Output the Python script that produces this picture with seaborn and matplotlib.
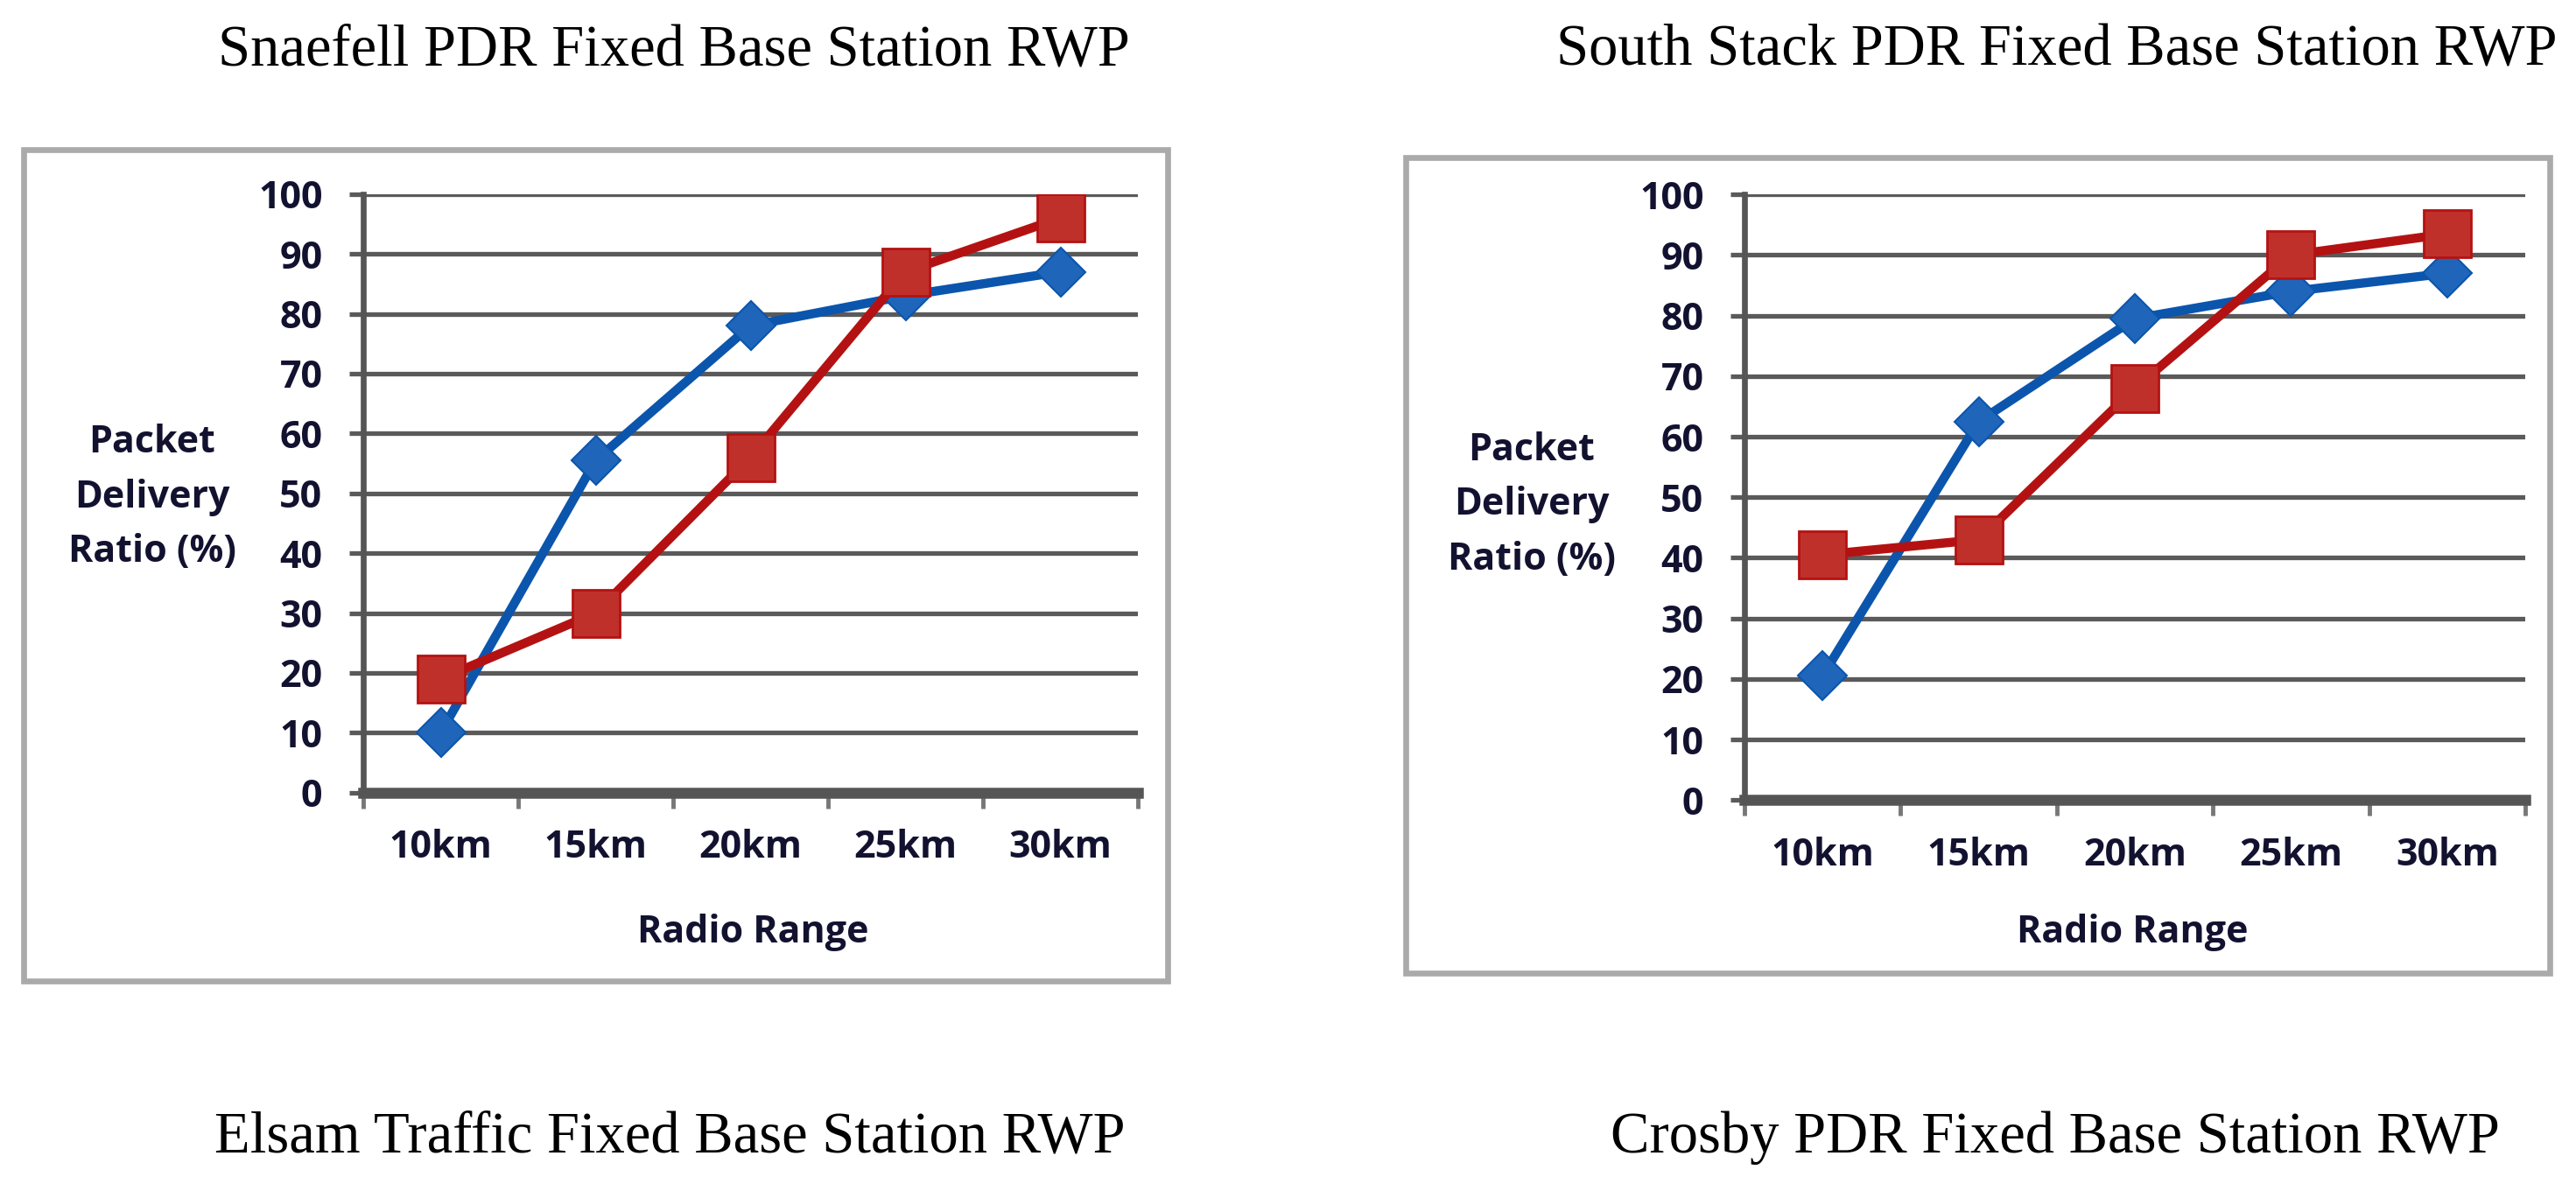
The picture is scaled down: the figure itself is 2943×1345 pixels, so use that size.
import numpy as np
import pandas as pd
import matplotlib
matplotlib.use("Agg")
import matplotlib.pyplot as plt
from matplotlib.patches import Rectangle
from matplotlib.ticker import FixedLocator
import seaborn as sns

# data
ranges = ["10km", "15km", "20km", "25km", "30km"]
snaefell_blue = [10, 55.5, 78, 83, 87]
snaefell_red = [19, 30, 56, 87, 96]
southstack_blue = [20.5, 62.5, 79.5, 84, 87]
southstack_red = [40.5, 43, 68, 90, 93.5]

titles_top = ["Snaefell PDR Fixed Base Station RWP", "South Stack PDR Fixed Base Station RWP"]
titles_bottom = ["Elsam Traffic Fixed Base Station RWP", "Crosby PDR Fixed Base Station RWP"]
y_ticks = list(range(0, 101, 10))

sns.set_theme(style="white")
plt.rcParams["font.family"] = ["Open Sans", "DejaVu Sans"]

W, H = 2943, 1345
fig = plt.figure(figsize=(W / 100, H / 100), dpi=100)

blue_line, blue_face = "#0B55AD", "#1F66BA"
red_line, red_face = "#B41212", "#C0302B"
txt = "#121230"
grid_c = "#5a5a5a"


def px(x0, y0, x1, y1):
    # pixel box (top-left origin) -> figure fraction rect
    return [x0 / W, 1 - y1 / H, (x1 - x0) / W, (y1 - y0) / H]


def draw_panel(rect, blue, red):
    ax = fig.add_axes(rect)
    df = pd.DataFrame({"range": ranges, "blue": blue, "red": red})
    sns.pointplot(data=df, x="range", y="blue", color=blue_line, marker="D",
                  markersize=29, markerfacecolor=blue_face, markeredgecolor=blue_line,
                  markeredgewidth=1.5, linewidth=7.5, errorbar=None, ax=ax, zorder=3)
    sns.pointplot(data=df, x="range", y="red", color=red_line, marker="s",
                  markersize=39, markerfacecolor=red_face, markeredgecolor=red_line,
                  markeredgewidth=2, linewidth=7.5, errorbar=None, ax=ax, zorder=4)
    ax.set_ylim(0, 100)
    ax.set_xlim(-0.5, len(ranges) - 0.5)
    ax.set_yticks(y_ticks)
    ax.set_yticklabels([str(v) for v in y_ticks])
    ax.yaxis.grid(True, color=grid_c, linewidth=3.8)
    ax.xaxis.grid(False)
    ax.set_axisbelow(True)
    ax.set_xlabel("")
    ax.set_ylabel("")
    for s in ["top", "right"]:
        ax.spines[s].set_visible(False)
    ax.spines["left"].set_color("#555555")
    ax.spines["left"].set_linewidth(4.8)
    ax.spines["bottom"].set_color("#555555")
    ax.spines["bottom"].set_linewidth(9)
    ax.spines["bottom"].set_zorder(2.5)
    ax.tick_params(axis="y", which="major", direction="out", length=11.5, width=3.8,
                   color=grid_c, pad=22, labelsize=31, labelcolor=txt, left=True)
    ax.tick_params(axis="x", which="major", length=0, pad=30, labelsize=31, labelcolor=txt)
    ax.xaxis.set_minor_locator(FixedLocator(np.arange(-0.5, len(ranges), 1.0)))
    ax.tick_params(axis="x", which="minor", direction="out", length=13, width=3.5,
                   color="#777777", bottom=True)
    for lab in ax.get_xticklabels() + ax.get_yticklabels():
        lab.set_fontweight("bold")
    return ax


draw_panel(px(415, 221.7, 1300, 905.7), snaefell_blue, snaefell_red)
draw_panel(px(1993, 222.3, 2885, 914.2), southstack_blue, southstack_red)

# chart frames
for x0, y0, x1, y1 in [(27, 171.3, 1334.3, 1121), (1606.3, 179.5, 2913.3, 1111.8)]:
    fig.patches.append(Rectangle((x0 / W, 1 - y1 / H), (x1 - x0) / W, (y1 - y0) / H,
                                 transform=fig.transFigure, fill=False,
                                 edgecolor="#AAAAAA", linewidth=4.8, zorder=0))

# axis titles
lab_kw = dict(fontsize=31, color=txt, fontweight="bold")
fig.text(174 / W, 1 - 568 / H, "Packet\nDelivery\nRatio (%)", ha="center", va="center",
         multialignment="center", linespacing=1.6, **lab_kw)
fig.text(1750 / W, 1 - 577 / H, "Packet\nDelivery\nRatio (%)", ha="center", va="center",
         multialignment="center", linespacing=1.6, **lab_kw)
fig.text(860 / W, 1 - 1077 / H, "Radio Range", ha="center", va="baseline", **lab_kw)
fig.text(2436 / W, 1 - 1077 / H, "Radio Range", ha="center", va="baseline", **lab_kw)

# captions
cap_kw = dict(fontsize=48, color="black", family=["Liberation Serif", "DejaVu Serif"])
fig.text(249 / W, 1 - 75 / H, titles_top[0], ha="left", va="baseline", **cap_kw)
fig.text(1778 / W, 1 - 75 / H, titles_top[1], ha="left", va="baseline", **cap_kw)
fig.text(245 / W, 1 - 1317 / H, titles_bottom[0], ha="left", va="baseline", **cap_kw)
fig.text(1840 / W, 1 - 1317 / H, titles_bottom[1], ha="left", va="baseline", **cap_kw)

fig.savefig("out.png", dpi=100, facecolor="white")
